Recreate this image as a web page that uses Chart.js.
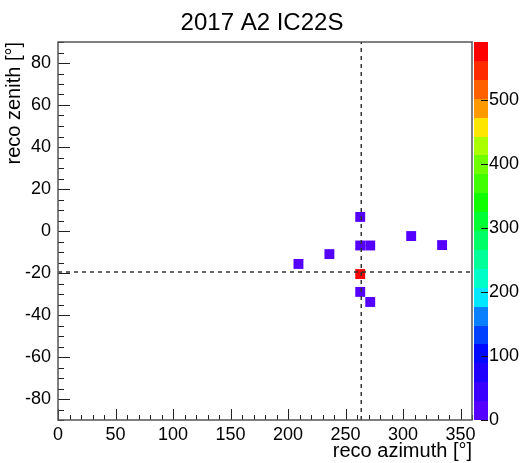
<!DOCTYPE html>
<html>
<head>
<meta charset="utf-8">
<script src="https://cdn.jsdelivr.net/npm/chart.js@4/dist/chart.umd.min.js"></script>
<style>
  html, body { margin: 0; padding: 0; background: #fff; }
</style>
</head>
<body>
<canvas id="c" width="524" height="463"></canvas>
<script>
/* 2D COLZ-style map: reco azimuth vs reco zenith, with reference cross-hair */

const TITLE = '2017 A2 IC22S';
const X_TITLE = 'reco azimuth [°]';
const Y_TITLE = 'reco zenith [°]';

// filled bins (bin centre azimuth, zenith) and their contents
const azimuth = [209.1, 236.0, 262.8, 262.8, 271.5, 262.8, 262.8, 271.5, 307.1, 334.0];
const zenith = [-15.7, -11.0, 6.7, -6.9, -6.9, -20.5, -29.0, -33.8, -2.4, -6.7];
const counts = [12, 12, 12, 12, 12, 575, 12, 12, 12, 12];

// reference direction (dashed cross-hair)
const refAzimuth = 263.7;
const refZenith = -19.5;

const xTicks = [0, 50, 100, 150, 200, 250, 300, 350];
const yTicks = [-80, -60, -40, -20, 0, 20, 40, 60, 80];
const zTicks = [0, 100, 200, 300, 400, 500];

const Z_MAX = 590;
const PALETTE = [
  '#5500ff', '#3a00ff', '#1e00ff', '#0008ff', '#0040ff',
  '#0a80ff', '#00e8ff', '#00ffc8', '#00ff99', '#00ff66',
  '#00ff33', '#10ff00', '#40ff00', '#70ff00', '#aaff00',
  '#ffe600', '#ff9900', '#ff6000', '#ff2a00', '#ff0000',
];

const FONT = '"Liberation Sans", Arial, Helvetica, sans-serif';
Chart.defaults.font.family = FONT;
Chart.defaults.color = '#000';

function binColor(v) {
  const i = Math.min(PALETTE.length - 1, Math.floor(v / (Z_MAX / PALETTE.length)));
  return PALETTE[i];
}

const frameAndTicks = {
  id: 'frameAndTicks',
  afterDatasetsDraw(chart) {
    const { ctx, chartArea: a, scales: { x, y } } = chart;
    ctx.save();
    ctx.strokeStyle = '#222';
    ctx.lineWidth = 1;
    ctx.beginPath();
    for (let v = 0; v <= 360; v += 10) {
      const px = Math.round(x.getPixelForValue(v)) + 0.5;
      const len = v % 50 === 0 ? 11 : 5;
      ctx.moveTo(px, a.bottom);
      ctx.lineTo(px, a.bottom - len);
    }
    for (let v = -90; v <= 90; v += 5) {
      const py = Math.round(y.getPixelForValue(v)) + 0.5;
      const len = v % 20 === 0 ? 12 : 6;
      ctx.moveTo(a.left, py);
      ctx.lineTo(a.left + len, py);
    }
    ctx.stroke();
    ctx.strokeStyle = '#555';
    ctx.lineWidth = 1.5;
    ctx.strokeRect(a.left, a.top, a.right - a.left, a.bottom - a.top);
    ctx.restore();
  },
};

const colorBar = {
  id: 'colorBar',
  afterDraw(chart) {
    const { ctx, chartArea: a, scales: { z } } = chart;
    const x0 = Math.round(a.right + 2);
    const w = 14;
    const step = Z_MAX / PALETTE.length;
    ctx.save();
    PALETTE.forEach((col, i) => {
      const y1 = Math.round(z.getPixelForValue(i * step));
      const y2 = Math.round(z.getPixelForValue((i + 1) * step));
      ctx.fillStyle = col;
      ctx.fillRect(x0, y2, w, y1 - y2);
    });
    ctx.strokeStyle = '#111';
    ctx.lineWidth = 1;
    ctx.beginPath();
    zTicks.forEach((v) => {
      const py = Math.round(z.getPixelForValue(v)) + 0.5;
      ctx.moveTo(x0 + w - 7, py);
      ctx.lineTo(x0 + w, py);
    });
    ctx.stroke();
    ctx.restore();
  },
};

const tickFont = { size: 18 };
const titleFont = { size: 20 };

new Chart(document.getElementById('c'), {
  type: 'scatter',
  data: {
    datasets: [
      {
        type: 'line',
        data: [{ x: refAzimuth, y: -90 }, { x: refAzimuth, y: 90 }],
        showLine: true,
        borderColor: '#333',
        borderWidth: 1.5,
        borderDash: [4, 4],
        pointRadius: 0,
        order: 0,
      },
      {
        type: 'line',
        data: [{ x: 0, y: refZenith }, { x: 360, y: refZenith }],
        showLine: true,
        borderColor: '#333',
        borderWidth: 1.5,
        borderDash: [4, 4],
        pointRadius: 0,
        order: 0,
      },
      {
        data: azimuth.map((a, i) => ({ x: a, y: zenith[i] })),
        pointStyle: 'rect',
        pointRadius: 7,
        pointHoverRadius: 7,
        pointBorderWidth: 0,
        pointBackgroundColor: counts.map(binColor),
        order: 1,
      },
    ],
  },
  plugins: [frameAndTicks, colorBar],
  options: {
    responsive: false,
    animation: false,
    layout: { padding: 0 },
    plugins: {
      legend: { display: false },
      tooltip: { enabled: false },
      title: {
        display: true,
        text: TITLE,
        color: '#000',
        font: { size: 24, weight: 'normal' },
        padding: { top: 9, bottom: 4.2 },
      },
    },
    scales: {
      x: {
        type: 'linear',
        position: 'bottom',
        min: 0,
        max: 360,
        afterBuildTicks: (s) => { s.ticks = xTicks.map((value) => ({ value })); },
        afterFit: (s) => { s.height = 43; },
        grid: { display: false, drawTicks: false },
        border: { display: false },
        ticks: { font: tickFont, padding: 4, maxRotation: 0, autoSkip: false },
        title: { display: true, text: X_TITLE, align: 'end', font: titleFont, padding: { top: 0, bottom: 0 } },
      },
      y: {
        type: 'linear',
        position: 'left',
        min: -90,
        max: 90,
        afterBuildTicks: (s) => { s.ticks = yTicks.map((value) => ({ value })); },
        afterFit: (s) => { s.width = 58; },
        grid: { display: false, drawTicks: false },
        border: { display: false },
        ticks: { font: tickFont, padding: 7, autoSkip: false },
        title: { display: true, text: Y_TITLE, align: 'end', font: titleFont, padding: { top: 2, bottom: 0 } },
      },
      z: {
        type: 'linear',
        axis: 'y',
        position: 'right',
        min: 0,
        max: Z_MAX,
        afterBuildTicks: (s) => { s.ticks = zTicks.map((value) => ({ value })); },
        afterFit: (s) => { s.width = 52; },
        grid: { display: false, drawTicks: false },
        border: { display: false },
        ticks: { font: tickFont, padding: 17, autoSkip: false },
      },
    },
  },
});
</script>
</body>
</html>
